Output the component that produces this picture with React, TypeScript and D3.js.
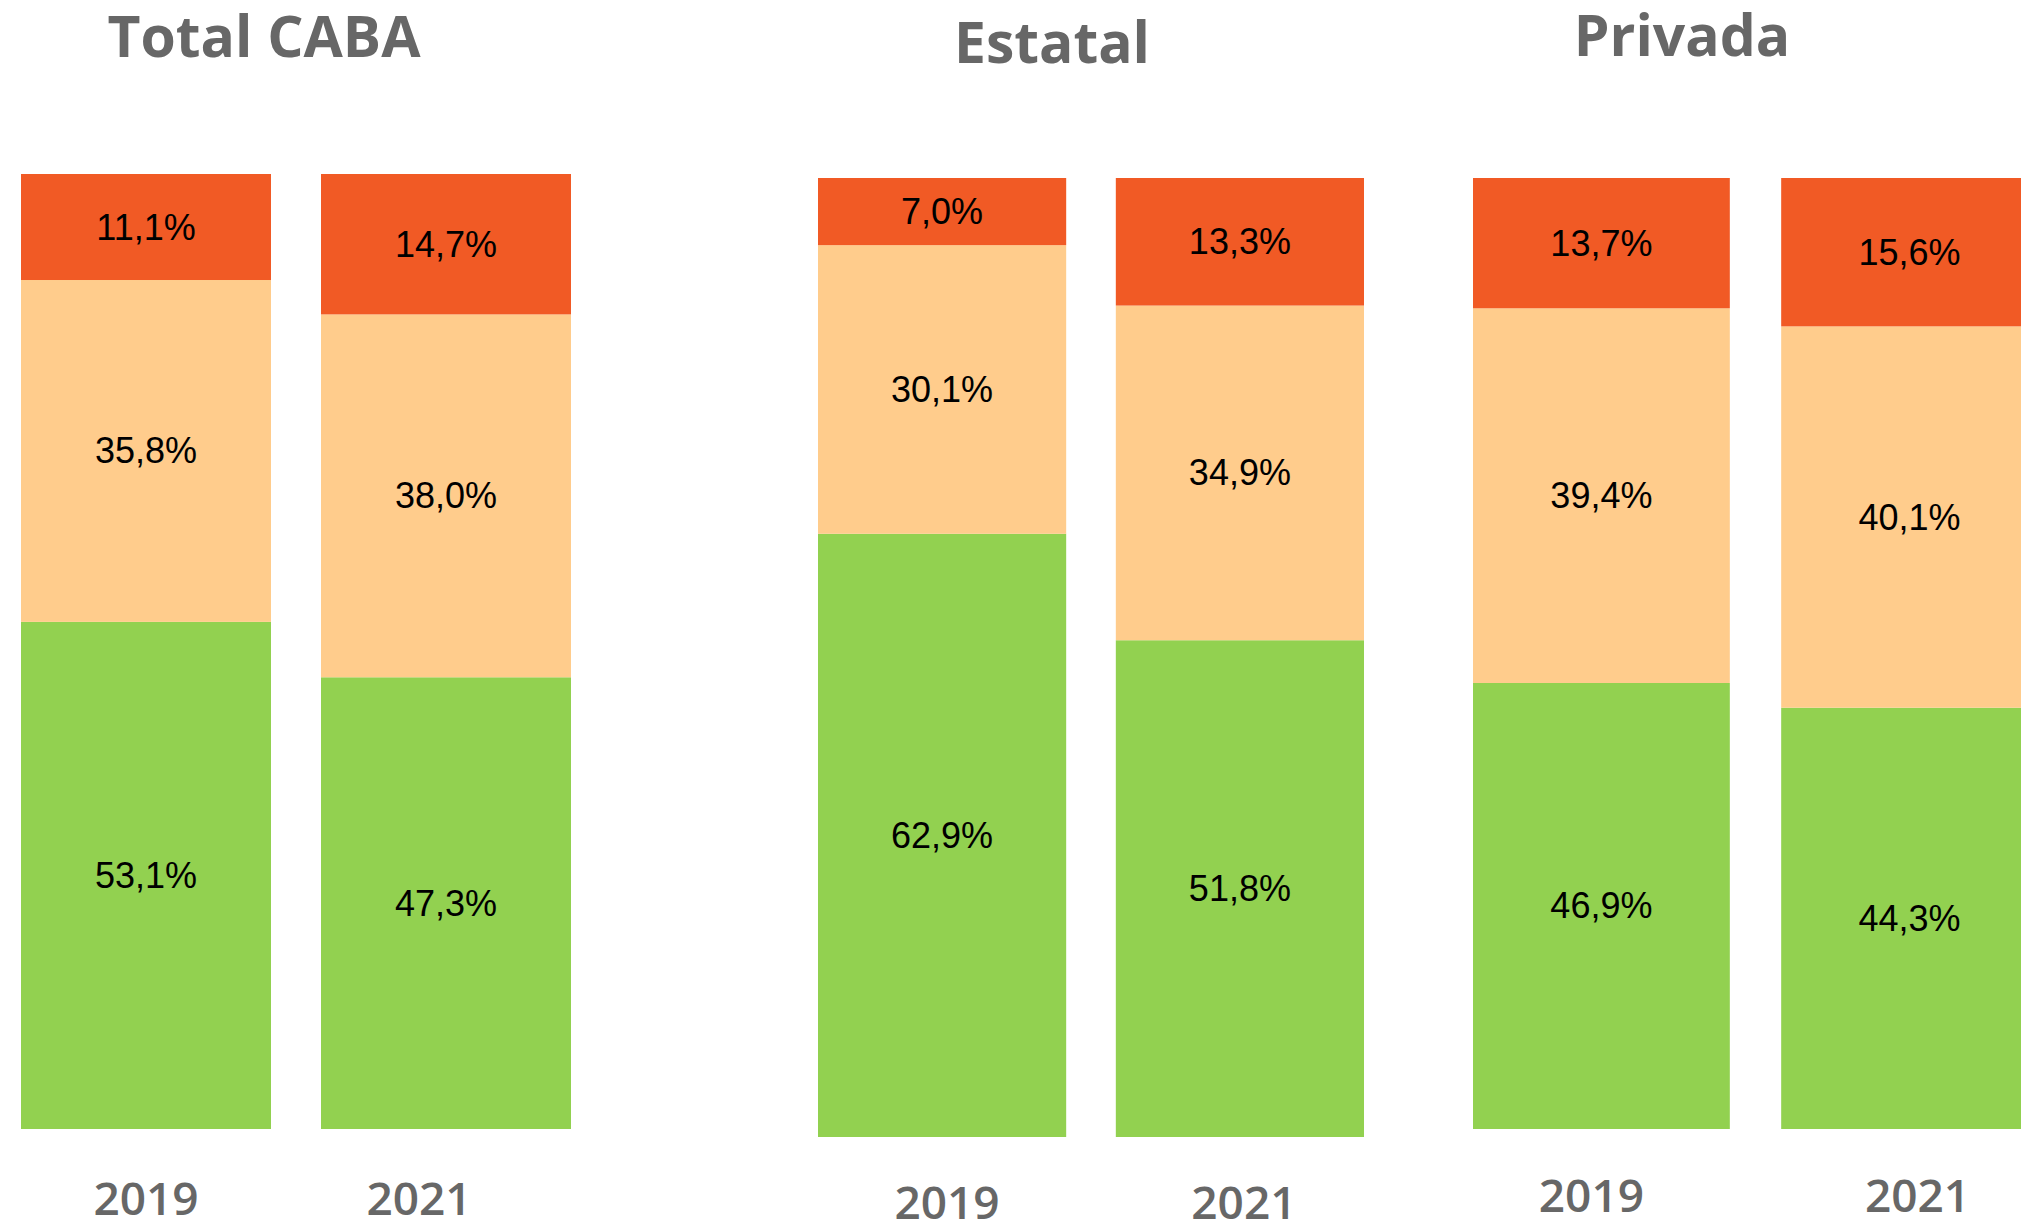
import React from "react";
import * as d3 from "d3";

// stacked shares (%) per panel, bottom to top
const years = ["2019", "2021"];
const keys = ["inferior", "medio", "superior"];
const colors = ["#92D150", "#FFCC8C", "#F15A25"];

const totalCABA = [
  { year: "2019", inferior: 53.1, medio: 35.8, superior: 11.1 },
  { year: "2021", inferior: 47.3, medio: 38.0, superior: 14.7 },
];
const estatal = [
  { year: "2019", inferior: 62.9, medio: 30.1, superior: 7.0 },
  { year: "2021", inferior: 51.8, medio: 34.9, superior: 13.3 },
];
const privada = [
  { year: "2019", inferior: 46.9, medio: 39.4, superior: 13.7 },
  { year: "2021", inferior: 44.3, medio: 40.1, superior: 15.6 },
];

const W = 2021;
const H = 1223;

const panels = [
  { title: "Total CABA", data: totalCABA, x: [21, 571], y: [1129, 174], titleX: 264, titleY: 57, yearY: 1215, yearDx: [0, -27] },
  { title: "Estatal", data: estatal, x: [818, 1364], y: [1137, 178], titleX: 1052, titleY: 63, yearY: 1219, yearDx: [5, 4] },
  { title: "Privada", data: privada, x: [1473, 2038], y: [1129, 178], titleX: 1682, titleY: 56, yearY: 1212, yearDx: [-10, 8] },
];

const locale = d3.formatLocale({ decimal: ",", thousands: ".", grouping: [3], currency: ["$", ""] });
const fmt = locale.format(".1f");

function Panel({ p }: { p: any }) {
  const x = d3.scaleBand().domain(years).range(p.x).paddingInner(1 / 6).paddingOuter(0);
  const y = d3.scaleLinear().domain([0, 100]).range(p.y);
  const stack = d3.stack().keys(keys);
  const series = stack(p.data);

  return (
    <g>
      <text
        x={p.titleX}
        y={p.titleY}
        textAnchor="middle"
        fontFamily="'Open Sans', sans-serif"
        fontWeight={700}
        fontSize={57}
        fill="#676767"
      >
        {p.title}
      </text>
      {series.map((s, i) => (
        <g key={s.key} fill={colors[i]}>
          {s.map((d: any) => (
            <rect
              key={d.data.year}
              x={x(d.data.year)}
              y={y(d[1])}
              width={x.bandwidth()}
              height={y(d[0]) - y(d[1])}
            />
          ))}
        </g>
      ))}
      {series.map((s) =>
        s.map((d: any) => (
          <text
            key={s.key + d.data.year}
            x={(x(d.data.year) as number) + x.bandwidth() / 2}
            y={(y(d[0]) + y(d[1])) / 2}
            textAnchor="middle"
            dominantBaseline="central"
            fontFamily="'Liberation Sans', Arial, sans-serif"
            fontSize={36}
            fill="#000"
          >
            {fmt(d.data[s.key as string]) + "%"}
          </text>
        ))
      )}
      {years.map((yr, i) => (
        <text
          key={yr}
          x={(x(yr) as number) + x.bandwidth() / 2 + p.yearDx[i]}
          y={p.yearY}
          textAnchor="middle"
          fontFamily="'Open Sans', sans-serif"
          fontWeight={600}
          fontSize={46}
          fill="#676767"
        >
          {yr}
        </text>
      ))}
    </g>
  );
}

export default function App() {
  return (
    <svg width={W} height={H} style={{ position: "absolute", left: 0, top: 0, background: "#fff" }}>
      {panels.map((p) => (
        <Panel key={p.title} p={p} />
      ))}
    </svg>
  );
}
